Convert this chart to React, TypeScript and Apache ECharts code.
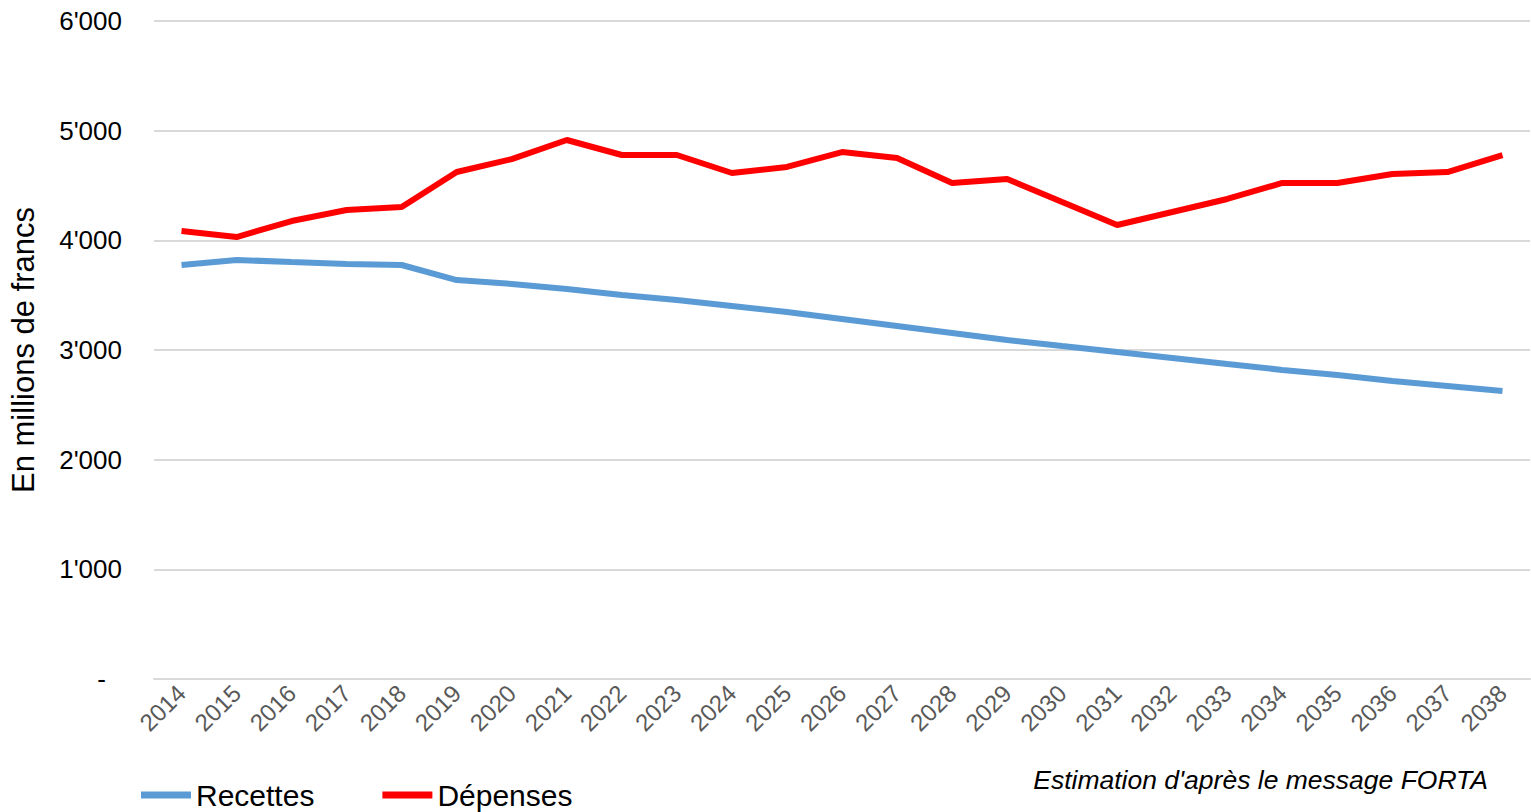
import React, { useEffect, useRef } from "react";
import * as echarts from "echarts";

const years = ["2014","2015","2016","2017","2018","2019","2020","2021","2022","2023","2024","2025","2026","2027","2028","2029","2030","2031","2032","2033","2034","2035","2036","2037","2038"];
const recettes = [3775,3821,3802,3784,3775,3638,3602,3556,3501,3456,3401,3346,3283,3219,3155,3091,3036,2982,2927,2872,2818,2772,2717,2672,2626];
const depenses = [4085,4030,4176,4276,4304,4623,4741,4915,4778,4778,4614,4669,4805,4750,4523,4559,4349,4140,4258,4377,4523,4523,4605,4623,4778];
const yTicks = [0,1000,2000,3000,4000,5000,6000];

const fmt = (v: number) => (v === 0 ? "{d|-}" : `${Math.floor(v / 1000)}'${String(v % 1000).padStart(3, "0")}`);

export default function App() {
  const ref = useRef<HTMLDivElement>(null);
  useEffect(() => {
    if (!ref.current) return;
    const chart = echarts.init(ref.current, null, { renderer: "svg" });
    const font = "Liberation Sans, Arial, sans-serif";
    chart.setOption({
      animation: false,
      textStyle: { fontFamily: font },
      grid: { left: 152, right: 1, top: 21, bottom: 133, containLabel: false },
      xAxis: {
        type: "category",
        data: years,
        boundaryGap: true,
        axisLine: { show: true, lineStyle: { color: "#d9d9d9", width: 2 } },
        axisTick: { show: false },
        axisLabel: { rotate: 45, fontSize: 24, color: "#595959", margin: 10, fontFamily: font, interval: 0 },
      },
      yAxis: {
        type: "value",
        min: yTicks[0],
        max: yTicks[yTicks.length - 1],
        interval: 1000,
        name: "En millions de francs",
        nameLocation: "middle",
        nameGap: 115,
        nameTextStyle: { fontSize: 31, color: "#000", fontFamily: font },
        axisLine: { show: false },
        axisTick: { show: false },
        splitLine: { lineStyle: { color: "#d9d9d9", width: 2 } },
        axisLabel: {
          formatter: fmt,
          fontSize: 26,
          color: "#000",
          margin: 32,
          fontFamily: font,
          rich: { d: { fontSize: 26, color: "#000", fontFamily: font, padding: [0, 16, 0, 0] } },
        },
      },
      legend: {
        left: 136,
        top: 775,
        itemWidth: 50,
        itemHeight: 7,
        itemGap: 68,
        icon: "rect",
        textStyle: { fontSize: 30, color: "#000", fontFamily: font },
        data: ["Recettes", "Dépenses"],
      },
      graphic: [
        {
          type: "text",
          right: 43,
          top: 766,
          style: { text: "Estimation d'après le message FORTA", fontSize: 26.5, fontStyle: "italic", fill: "#000", fontFamily: font },
        },
      ],
      series: [
        { name: "Recettes", type: "line", data: recettes, symbol: "none", lineStyle: { color: "#5B9BD5", width: 6 }, itemStyle: { color: "#5B9BD5" } },
        { name: "Dépenses", type: "line", data: depenses, symbol: "none", lineStyle: { color: "#FF0000", width: 6 }, itemStyle: { color: "#FF0000" } },
      ],
    });
    return () => chart.dispose();
  }, []);
  return <div ref={ref} style={{ position: "absolute", left: 0, top: 0, width: 1531, height: 812 }} />;
}
